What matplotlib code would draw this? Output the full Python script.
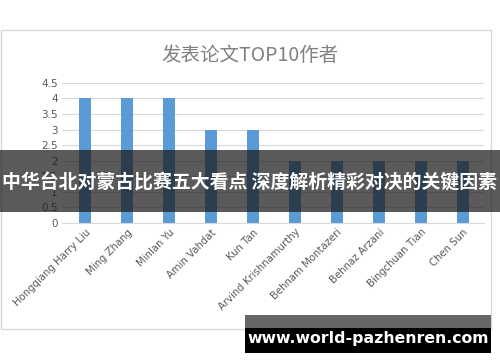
import matplotlib.pyplot as plt
from matplotlib.patches import Rectangle

plt.rcParams['font.family'] = ['Noto Sans CJK SC', 'DejaVu Sans']

authors = ["Hongqiang Harry Liu", "Ming Zhang", "Minlan Yu", "Amin Vahdat", "Kun Tan",
           "Arvind Krishnamurthy", "Behnam Montazeri", "Behnaz Arzani", "Bingchuan Tian", "Chen Sun"]
papers = [4, 4, 4, 3, 3, 2, 2, 2, 2, 2]
yticks = [0, 0.5, 1, 1.5, 2, 2.5, 3, 3.5, 4, 4.5]

title = "发表论文TOP10作者"
banner = "中华台北对蒙古比赛五大看点 深度解析精彩对决的关键因素"
watermark = "www.world-pazhenren.com"

fig = plt.figure(figsize=(5.0, 3.62), dpi=100)

# chart frame
fig.patches.append(Rectangle((0.002, 0.091), 0.980, 0.826, transform=fig.transFigure,
                             fill=False, edgecolor="#d9d9d9", linewidth=1.0))

ax = fig.add_axes([0.124, 0.384, 0.844, 0.387])
ax.bar(range(len(authors)), papers, width=0.29, color="#5b9bd5", zorder=3)
ax.set_xlim(-0.55, 9.5)
ax.set_ylim(0, 4.5)
ax.set_yticks(yticks)
ax.set_yticklabels([f"{v:g}" for v in yticks], fontsize=7.5, color="#595959", family="DejaVu Sans")
ax.set_xticks(range(len(authors)))
ax.set_xticklabels(authors, rotation=45, ha="right", rotation_mode="anchor",
                   fontsize=7.3, color="#595959", family="DejaVu Sans")
ax.grid(axis="y", color="#d9d9d9", linewidth=0.8, zorder=0)
for s in ["top", "right", "left"]:
    ax.spines[s].set_visible(False)
ax.spines["bottom"].set_color("#d9d9d9")
ax.tick_params(length=0, pad=3)

fig.text(0.5, 0.848, title, ha="center", va="center", fontsize=14, color="#808080")

# overlay banner
fig.patches.append(Rectangle((0, 1 - 212 / 362), 1, 62 / 362, transform=fig.transFigure,
                             facecolor="#1a1a1a", alpha=0.72, edgecolor="none", zorder=5))
fig.text(0.5, 1 - 183 / 362, banner, ha="center", va="center", fontsize=13.6,
         fontweight="bold", color="white", zorder=6)

# watermark box
fig.patches.append(Rectangle((245 / 500, 1 - 353 / 362), 246 / 500, 25 / 362,
                             transform=fig.transFigure, facecolor="black", edgecolor="none", zorder=5))
fig.patches.append(Rectangle((245 / 500, 1 - 328 / 362), 246 / 500, 13 / 362,
                             transform=fig.transFigure, facecolor="#666666", edgecolor="none", zorder=5))
fig.text(368 / 500, 1 - 338 / 362, watermark, ha="center", va="center", fontsize=11.3,
         fontweight="bold", color="white", family="DejaVu Sans", zorder=6)

fig.savefig("out.png", dpi=100)
